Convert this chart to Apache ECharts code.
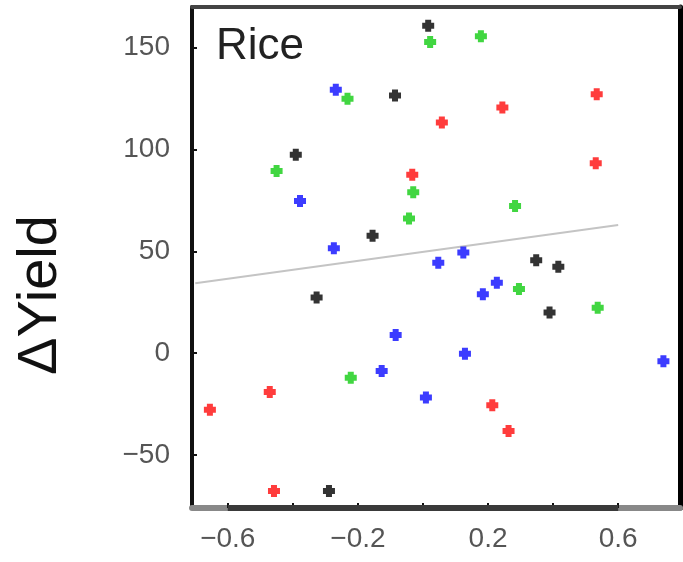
<!DOCTYPE html>
<html>
<head>
<meta charset="utf-8">
<script src="https://cdn.jsdelivr.net/npm/echarts@6/dist/echarts.min.js"></script>
<style>html,body{margin:0;padding:0;background:#fff;}#c{width:683px;height:562px;}</style>
</head>
<body>
<div id="c"></div>
<script>
// Data: [x, y]
const blackPts = [[0.016,160.8],[-0.086,126.6],[-0.391,97.4],[-0.155,57.7],[0.348,45.7],[0.416,42.5],[-0.327,27.4],[0.389,20.0],[-0.289,-67.7]];
const greenPts = [[0.022,152.8],[0.178,155.6],[-0.232,124.9],[-0.450,89.5],[-0.030,79.0],[0.283,72.3],[-0.043,66.2],[0.295,31.5],[0.537,22.3],[-0.222,-12.0]];
const bluePts = [[-0.268,129.4],[-0.378,74.8],[-0.274,51.5],[0.124,49.5],[0.047,44.4],[0.227,34.6],[0.184,28.9],[-0.084,8.9],[0.129,-0.2],[0.739,-3.9],[-0.127,-8.7],[0.009,-21.8]];
const redPts = [[0.534,127.2],[0.244,120.7],[0.058,113.3],[0.531,93.3],[-0.033,87.6],[-0.471,-19.0],[-0.655,-27.7],[0.213,-25.6],[0.263,-38.2],[-0.458,-67.7]];
const fitLine = [[-0.70,34.4],[0.60,63.0]];
const xTickValues = [-0.6,-0.4,-0.2,0,0.2,0.4,0.6];
const xLabelValues = [-0.6,-0.2,0.2,0.6];
const yTickValues = [-50,0,50,100,150];
const panelTitle = 'Rice';
const yName = '\u0394Yield';

const plus = 'path://M2,0H6V2H8V6H6V8H2V6H0V2H2Z';
const fmt = v => (v < 0 ? '\u2212' : '') + Math.abs(v).toString();
const font = '"Liberation Sans", Arial, sans-serif';

const chart = echarts.init(document.getElementById('c'), null, {renderer: 'canvas'});
function sc(name, data, color) {
  return {type: 'scatter', name, data, symbol: plus, symbolSize: 12,
    itemStyle: {color}, xAxisIndex: 0, yAxisIndex: 0, z: 3};
}
chart.setOption({
  animation: false,
  backgroundColor: '#fff',
  title: {text: panelTitle, left: 211, top: 20,
    textStyle: {fontFamily: font, fontSize: 44, fontWeight: 'normal', color: '#222'}},
  graphic: [{
    type: 'text', x: 41, y: 295, rotation: Math.PI / 2,
    style: {text: yName, fontFamily: font, fontSize: 56, fill: '#111', align: 'center', verticalAlign: 'middle'}
  }],
  grid: {left: 192, top: 7, width: 488, height: 501, show: false},
  xAxis: [{
    type: 'value', min: -0.71, max: 0.79, position: 'bottom',
    axisLine: {show: true, onZero: false, lineStyle: {color: '#888', width: 6}},
    axisTick: {show: true, inside: true, length: 5, customValues: xTickValues, lineStyle: {color: '#111', width: 2}},
    axisLabel: {customValues: xLabelValues, formatter: fmt, margin: 17, color: '#555', fontSize: 28, fontFamily: font},
    splitLine: {show: false}
  }, {
    type: 'value', min: -0.71, max: 0.79, position: 'top',
    axisLine: {show: true, onZero: false, lineStyle: {color: '#444', width: 4}},
    axisTick: {show: false}, axisLabel: {show: false}, splitLine: {show: false}
  }],
  yAxis: [{
    type: 'value', min: -76, max: 170, position: 'left',
    axisLine: {show: true, onZero: false, lineStyle: {color: '#111', width: 4}},
    axisTick: {show: true, inside: true, length: 5, customValues: yTickValues, lineStyle: {color: '#111', width: 2}},
    axisLabel: {customValues: yTickValues, formatter: fmt, margin: 22, color: '#555', fontSize: 28, fontFamily: font},
    splitLine: {show: false}
  }, {
    type: 'value', min: -76, max: 170, position: 'right',
    axisLine: {show: true, onZero: false, lineStyle: {color: '#000', width: 5}},
    axisTick: {show: false}, axisLabel: {show: false}, splitLine: {show: false}
  }],
  series: [
    {type: 'line', data: fitLine, symbol: 'none', lineStyle: {color: '#c4c4c4', width: 2}, z: 2, silent: true},
    {type: 'line', data: [[-0.6,-76],[0.6,-76]], symbol: 'none', clip: false, lineStyle: {color: '#3a3a3a', width: 6}, z: 5, silent: true},
    sc('black', blackPts, '#000000'),
    sc('green', greenPts, '#11cc11'),
    sc('blue', bluePts, '#0b0bff'),
    sc('red', redPts, '#ff0b0b')
  ]
});
</script>
</body>
</html>
